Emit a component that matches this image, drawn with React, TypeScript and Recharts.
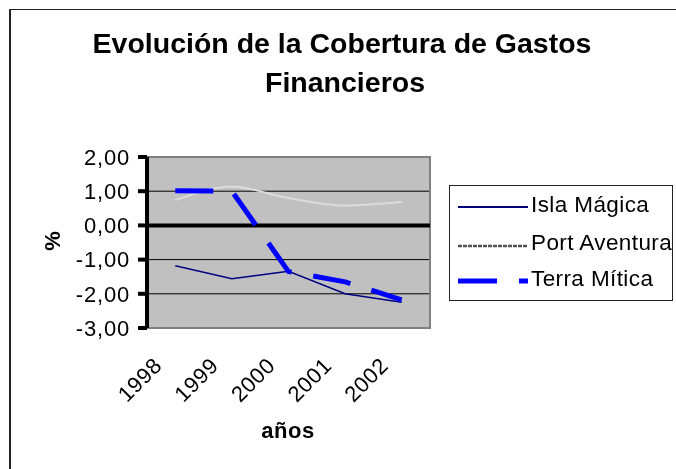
import React from 'react';
import {
  LineChart,
  Line,
  XAxis,
  YAxis,
  CartesianGrid,
  ReferenceLine,
  ReferenceArea,
  Legend,
} from 'recharts';

const years = ['1998', '1999', '2000', '2001', '2002'];
const islaMagica = [-1.18, -1.56, -1.34, -2.0, -2.25];
const portAventura = [0.74, 1.13, 0.8, 0.58, 0.69];
const terraMitica = [1.01, 1.0, -1.35, -1.65, -2.18];
const yTicks = [2, 1, 0, -1, -2, -3];
const gridValues = [1, 0, -1, -2];
const seriesNames = ['Isla Mágica', 'Port Aventura', 'Terra Mítica'];
const titleLines = ['Evolución de la Cobertura de Gastos', 'Financieros'];
const xTitle = 'años';
const yTitle = '%';

const data = years.map((y, i) => ({
  year: y,
  isla: islaMagica[i],
  port: portAventura[i],
  terra: terraMitica[i],
}));

const FONT = '"Liberation Sans", Arial, sans-serif';

const fmt = (v: number) => v.toFixed(2).replace('.', ',');

const XTick = (props: any) => {
  const { x, y, payload } = props;
  const ax = x - 12;
  const ay = y + 39;
  return (
    <text
      x={ax}
      y={ay}
      textAnchor="end"
      transform={`rotate(-45 ${ax} ${ay})`}
      fontSize={22}
      letterSpacing={0.6}
      fontFamily={FONT}
      fill="#000"
    >
      {payload.value}
    </text>
  );
};

const LegendContent = () => {
  const rows = [
    { y: 22, ty: 27, stroke: '#000080', w: 2, dash: undefined as string | undefined },
    { y: 61, ty: 65, stroke: '#505050', w: 2.5, dash: '4 1' },
    { y: 96, ty: 101, stroke: '#0000FF', w: 5, dash: '39 22' },
  ];
  return (
    <svg width={224} height={116} style={{ display: 'block', overflow: 'visible' }}>
      <rect x={0.5} y={0.5} width={223} height={115} fill="#fff" stroke="#222" strokeWidth={1} />
      {rows.map((r, i) => (
        <g key={seriesNames[i]}>
          <line x1={9} x2={79} y1={r.y} y2={r.y} stroke={r.stroke} strokeWidth={r.w} strokeDasharray={r.dash} />
          <text x={82} y={r.ty} fontSize={22.5} letterSpacing={0.4} fontFamily={FONT} fill="#000">
            {seriesNames[i]}
          </text>
        </g>
      ))}
    </svg>
  );
};

export default function App() {
  return (
    <div style={{ position: 'relative', width: 668, height: 453, background: '#fff' }}>
      <div
        style={{
          position: 'fixed',
          left: 9,
          top: 9,
          width: 760,
          height: 560,
          borderTop: '1px solid #222',
          borderLeft: '2px solid #222',
          boxSizing: 'border-box',
          pointerEvents: 'none',
        }}
      />
      <LineChart
        width={668}
        height={453}
        data={data}
        margin={{ top: 149, right: 246, bottom: 0, left: 0 }}
      >
        <CartesianGrid
          horizontal
          vertical={false}
          fill="#C0C0C0"
          stroke="#000"
          strokeWidth={1}
          horizontalValues={gridValues}
        />
        <ReferenceArea y1={-3} y2={2} fill="none" stroke="#808080" strokeWidth={2} ifOverflow="visible" />
        <XAxis
          dataKey="year"
          type="category"
          scale="band"
          height={133}
          axisLine={false}
          tickLine={false}
          tickSize={0}
          tickMargin={0}
          interval={0}
          tick={<XTick />}
        />
        <YAxis
          type="number"
          domain={[-3, 2]}
          ticks={yTicks}
          width={139}
          interval={0}
          tickFormatter={fmt}
          axisLine={{ stroke: '#000', strokeWidth: 4 }}
          tickLine={{ stroke: '#000', strokeWidth: 4 }}
          tickSize={9}
          tickMargin={8}
          tick={{ fontSize: 22, fontFamily: FONT, fill: '#000', letterSpacing: 0.8 }}
        />
        <ReferenceLine y={0} stroke="#000" strokeWidth={4} />
        <Line
          dataKey="isla"
          name={seriesNames[0]}
          type="linear"
          stroke="#000080"
          strokeWidth={1.5}
          dot={false}
          isAnimationActive={false}
        />
        <Line
          dataKey="port"
          name={seriesNames[1]}
          type="monotone"
          stroke="#DCDCDC"
          strokeWidth={2}
          dot={false}
          isAnimationActive={false}
        />
        <Line
          dataKey="terra"
          name={seriesNames[2]}
          type="linear"
          stroke="#0000FF"
          strokeWidth={5}
          strokeDasharray="38 22"
          dot={false}
          isAnimationActive={false}
        />
        <Legend
          layout="vertical"
          align="center"
          verticalAlign="middle"
          wrapperStyle={{ position: 'fixed', left: 449, top: 185, width: 224, height: 116 }}
          content={<LegendContent />}
        />
        <text x={334} y={45} textAnchor="middle" fontSize={28.5} fontWeight="bold" fontFamily={FONT} fill="#000">
          {titleLines[0]}
        </text>
        <text x={337} y={84} textAnchor="middle" fontSize={28.5} fontWeight="bold" fontFamily={FONT} fill="#000">
          {titleLines[1]}
        </text>
        <text x={280} y={430} textAnchor="middle" fontSize={22} fontWeight="bold" letterSpacing={0.6} fontFamily={FONT} fill="#000">
          {xTitle}
        </text>
        <text
          x={44}
          y={233}
          textAnchor="middle"
          dominantBaseline="central"
          transform="rotate(-90 44 233)"
          fontSize={22}
          fontWeight="bold"
          fontFamily={FONT}
          fill="#000"
        >
          {yTitle}
        </text>
      </LineChart>
    </div>
  );
}
